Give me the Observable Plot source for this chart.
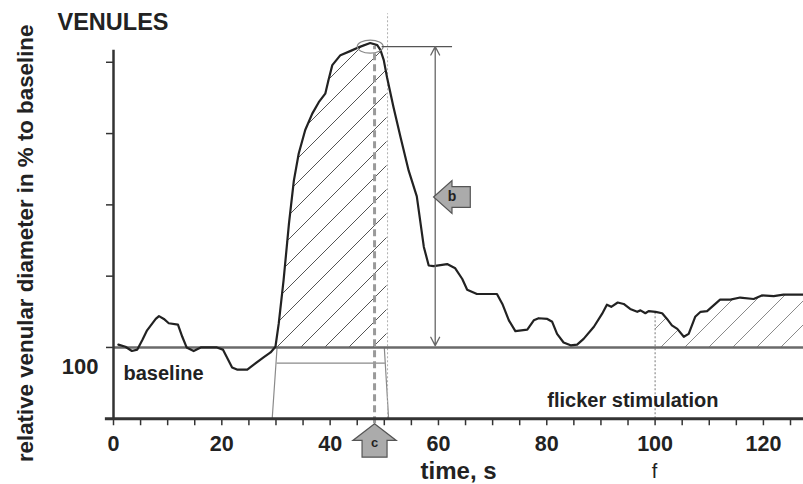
<!DOCTYPE html>
<html><head><meta charset="utf-8">
<script src="https://cdn.jsdelivr.net/npm/d3@7"></script>
<script src="https://cdn.jsdelivr.net/npm/@observablehq/plot@0.6"></script>
<style>
html,body{margin:0;padding:0;background:#fff;overflow:hidden;}
#chart svg{display:block;}
</style></head><body><div id="chart"></div>
<script>
// time (s) and relative venular diameter (% of baseline)
const time = [0.9,2.2,3.4,4.4,5.3,6.2,7.8,8.4,9.3,10.2,11.9,12.7,13.5,14.8,16.1,19.1,20.2,21.9,22.8,24.7,25.9,27.7,29.0,29.9,30.5,31.4,32.4,33.3,34.2,35.4,36.7,37.9,39.1,39.7,40.4,41.9,43.8,45.6,47.4,48.7,49.3,49.9,50.5,51.7,53.0,54.5,56.0,57.3,58.2,59.1,61.6,63.1,64.4,65.3,67.1,70.8,71.8,73.0,74.2,76.4,77.6,78.5,80.1,81.0,81.9,83.1,84.4,85.6,86.8,88.7,90.2,91.1,91.9,93.1,94.2,95.4,96.7,97.3,98.2,98.8,100.1,101.3,102.2,103.1,104.1,105.3,106.2,107.4,108.4,109.6,110.8,112.0,113.9,115.7,118.2,119.7,121.9,123.7,127.4];
const diameter = [100.4,100.1,99.5,99.7,101.0,102.4,104.0,104.4,104.0,103.4,103.2,101.5,100.0,99.5,100.0,100.0,99.7,97.2,96.9,96.9,97.6,98.6,99.3,100.1,103.3,109.4,117.4,123.4,127.2,130.5,132.8,134.4,135.6,137.5,139.6,141.0,141.6,142.2,142.7,142.4,141.7,140.3,137.9,133.7,129.5,124.8,121.2,114.1,111.5,111.4,111.7,111.1,109.6,108.1,107.5,107.5,106.1,103.8,102.3,102.5,103.8,104.1,104.0,103.6,101.9,100.7,100.3,100.4,101.2,102.9,104.7,106.0,105.7,106.3,106.1,105.4,105.0,105.2,104.8,105.1,105.0,104.8,104.0,103.1,102.6,101.5,101.9,104.3,105.0,105.1,105.9,106.7,106.7,107.0,106.8,107.3,107.2,107.4,107.4];
const xMinorTicks = [0,5,10,15,20,25,30,35,40,45,50,55,60,65,70,75,80,85,90,95,100,105,110,115,120,125];
const xTickLabels = [0,20,40,60,80,100,120];
const yTicks = [100,110,120,130,140];
const yTickLabels = [100];
const baselineValue = 100;

// annotation anchors (data units)
const peakTime = 48.2, peakValue = 142.2;
const windowEnd = 50.6;
const flickerTime = 100;
const stimLeft = [{t: 29.3, v: 90}, {t: 30.2, v: 100}];
const stimRight = [{t: 50.0, v: 100}, {t: 50.8, v: 90}];
const stimTop = 97.8;
const ampTime = 59.4;

const data = time.map((t, i) => ({t, v: diameter[i]}));
const hatch1 = data.filter(d => d.t >= 29.9 && d.t <= 50.5);
const hatch2 = data.filter(d => d.t >= 100.1);

const font = "Liberation Sans, Arial, Helvetica, sans-serif";

const ellipseSymbol = {draw(ctx) {
  const rx = 13, ry = 6.5, k = 0.5523;
  ctx.moveTo(rx, 0);
  ctx.bezierCurveTo(rx, ry*k, rx*k, ry, 0, ry);
  ctx.bezierCurveTo(-rx*k, ry, -rx, ry*k, -rx, 0);
  ctx.bezierCurveTo(-rx, -ry*k, -rx*k, -ry, 0, -ry);
  ctx.bezierCurveTo(rx*k, -ry, rx, -ry*k, rx, 0);
  ctx.closePath();
}};
function polySymbol(pts) {
  return {draw(ctx) {
    ctx.moveTo(pts[0][0], pts[0][1]);
    for (let i = 1; i < pts.length; i++) ctx.lineTo(pts[i][0], pts[i][1]);
    ctx.closePath();
  }};
}
const arrowUp = polySymbol([[0,0],[21.7,16.7],[12.5,16.7],[12.5,33.4],[-12.5,33.4],[-12.5,16.7],[-21.7,16.7]]);
const arrowLeft = polySymbol([[0,0],[18.4,-16.5],[18.4,-10.3],[36.7,-10.3],[36.7,10.3],[18.4,10.3],[18.4,16.5]]);

const svg = Plot.plot({
  width: 803, height: 484,
  marginLeft: 113, marginRight: 0, marginTop: 19, marginBottom: 65.75,
  style: {fontFamily: font, background: "#fff", overflow: "visible"},
  x: {domain: [0, 127.4], axis: null},
  y: {domain: [90, 146], axis: null},
  marks: [
    // hatched areas
    Plot.areaY(hatch1, {x: "t", y1: baselineValue, y2: "v", fill: "url(#hatchA)"}),
    Plot.areaY(hatch2, {x: "t", y1: baselineValue, y2: "v", fill: "url(#hatchB)"}),
    // stimulation window
    Plot.line(stimLeft, {x: "t", y: "v", stroke: "#8a8a8a", strokeWidth: 1.2}),
    Plot.line(stimRight, {x: "t", y: "v", stroke: "#8a8a8a", strokeWidth: 1.2}),
    Plot.ruleY([stimTop], {x1: stimLeft[1].t, x2: 50.2, stroke: "#8a8a8a", strokeWidth: 1.2}),
    // dotted verticals
    Plot.ruleX([windowEnd], {y1: 90, y2: 146.8, stroke: "#b0b0b0", strokeWidth: 1, strokeDasharray: "2,2"}),
    Plot.ruleX([flickerTime], {y1: 90, y2: 104.9, stroke: "#777", strokeWidth: 1, strokeDasharray: "2,2"}),
    // baseline
    Plot.ruleY([baselineValue], {x1: 0, x2: 127.4, stroke: "#6a6a6a", strokeWidth: 2.5}),
    // dashed peak-time line
    Plot.ruleX([peakTime], {y1: 89.3, y2: peakValue, stroke: "#9a9a9a", strokeWidth: 3, strokeDasharray: "7,4"}),
    // curve
    Plot.line(data, {x: "t", y: "v", stroke: "#222", strokeWidth: 2.2, strokeLinejoin: "round"}),
    // peak marker
    Plot.dot([{t: 47.4, v: 142.2}], {x: "t", y: "v", symbol: ellipseSymbol, stroke: "#888", strokeWidth: 1.2, fill: "none"}),
    // amplitude indicator
    Plot.ruleY([peakValue], {x1: 49.6, x2: 62.6, stroke: "#555", strokeWidth: 1.2}),
    Plot.arrow([{y2: peakValue}, {y2: 100.25}], {x1: ampTime, x2: ampTime, y1: 121, y2: "y2", stroke: "#666", strokeWidth: 1.3, headLength: 11, headAngle: 55}),
    // axes
    Plot.axisY({ticks: yTicks, tickSize: 7, tickFormat: () => "", stroke: "#333", strokeWidth: 1.5, label: null}),
    Plot.axisX({ticks: xMinorTicks, tickSize: 7, tickFormat: () => "", stroke: "#333", strokeWidth: 1.5, label: null}),
    Plot.ruleX([0], {y1: 90, y2: 141.7, stroke: "#333", strokeWidth: 2.5}),
    Plot.ruleY([90], {x1: -1.5, x2: 127.4, stroke: "#333", strokeWidth: 3}),
    // tick labels
    Plot.text(xTickLabels, {x: d => d, frameAnchor: "bottom", dy: 32, lineAnchor: "bottom", textAnchor: "middle", text: d => String(d), fontSize: 21.5, fontWeight: "bold", fill: "#222"}),
    Plot.text(yTickLabels, {y: d => d, frameAnchor: "left", dx: -15, dy: 27, lineAnchor: "bottom", textAnchor: "end", text: d => String(d), fontSize: 22, fontWeight: "bold", fill: "#222"}),
    // block arrows
    Plot.dot([{t: peakTime, v: 89.3}], {x: "t", y: "v", symbol: arrowUp, fill: "#ababab", stroke: "#555", strokeWidth: 1.2}),
    Plot.dot([{t: 59.1, v: 121.1}], {x: "t", y: "v", symbol: arrowLeft, fill: "#ababab", stroke: "#555", strokeWidth: 1.2}),
    Plot.text(["c"], {x: peakTime, y: 86.6, text: d => d, fontSize: 13, fontWeight: "bold", fill: "#222", textAnchor: "middle", lineAnchor: "middle"}),
    Plot.text(["b"], {x: 62.5, y: 121.2, text: d => d, fontSize: 14, fontWeight: "bold", fill: "#222", textAnchor: "middle", lineAnchor: "middle"}),
    // labels
    Plot.text(["baseline"], {x: 1.85, y: 95.5, text: d => d, fontSize: 20, fontWeight: "bold", fill: "#222", textAnchor: "start", lineAnchor: "bottom"}),
    Plot.text(["flicker stimulation"], {x: 80.1, y: 91.6, text: d => d, fontSize: 20, fontWeight: "bold", fill: "#222", textAnchor: "start", lineAnchor: "bottom"}),
    Plot.text(["time, s"], {x: 56.7, y: 81.5, text: d => d, fontSize: 24, fontWeight: "bold", fill: "#222", textAnchor: "start", lineAnchor: "bottom"}),
    Plot.text(["f"], {x: 99.9, y: 81.75, text: d => d, fontSize: 20, fill: "#222", textAnchor: "middle", lineAnchor: "bottom"}),
    Plot.text(["relative venular diameter in % to baseline"], {x: -14.9, y: 114.6, rotate: -90, text: d => d, fontSize: 22.3, fontWeight: "bold", fill: "#222", textAnchor: "middle", lineAnchor: "bottom"}),
    Plot.text(["VENULES"], {frameAnchor: "top-left", dx: -56, dy: 10, text: d => d, fontSize: 23.5, fontWeight: "bold", fill: "#222", textAnchor: "start", lineAnchor: "bottom"})
  ]
});

// hatch patterns
const ns = "http://www.w3.org/2000/svg";
const defs = document.createElementNS(ns, "defs");
function addPattern(id, color, width) {
  const p = document.createElementNS(ns, "pattern");
  p.setAttribute("id", id);
  p.setAttribute("patternUnits", "userSpaceOnUse");
  p.setAttribute("width", 24);
  p.setAttribute("height", 24);
  const path = document.createElementNS(ns, "path");
  path.setAttribute("d", "M0,24 L24,0 M-12,12 L12,-12 M12,36 L36,12");
  path.setAttribute("stroke", color);
  path.setAttribute("stroke-width", width);
  path.setAttribute("fill", "none");
  p.appendChild(path);
  defs.appendChild(p);
}
addPattern("hatchA", "#555", 1);
addPattern("hatchB", "#8a8a8a", 1);
svg.insertBefore(defs, svg.firstChild);
document.getElementById("chart").appendChild(svg);
</script>
</body></html>
